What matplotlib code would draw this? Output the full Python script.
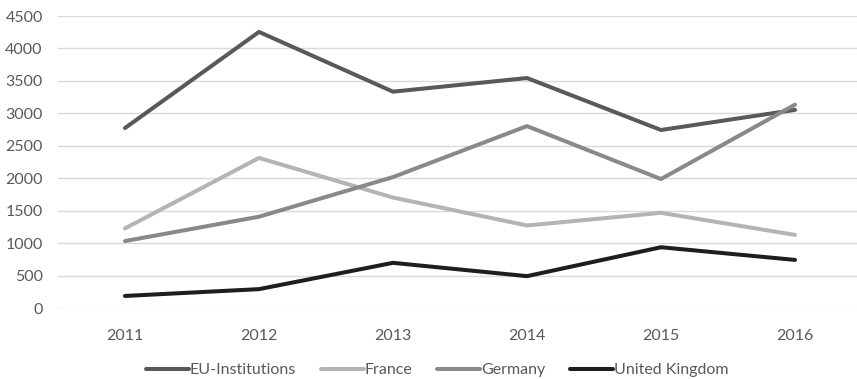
import matplotlib
matplotlib.use("Agg")
import matplotlib.pyplot as plt

years = ["2011", "2012", "2013", "2014", "2015", "2016"]
eu_institutions = [2775, 4255, 3335, 3545, 2745, 3055]
france = [1230, 2315, 1705, 1275, 1470, 1130]
germany = [1035, 1410, 2020, 2805, 1990, 3135]
united_kingdom = [190, 295, 700, 495, 940, 745]

series = [
    ("EU-Institutions", eu_institutions, "#595959"),
    ("France", france, "#b4b4b4"),
    ("Germany", germany, "#898989"),
    ("United Kingdom", united_kingdom, "#1e1e1e"),
]

plt.rcParams["font.family"] = ["Lato", "DejaVu Sans"]
W, H = 857, 379
fig = plt.figure(figsize=(W / 100, H / 100), dpi=100)
ax = fig.add_axes([58 / W, (H - 308.3) / H, (862 - 58) / W, 292.3 / H])

x = range(len(years))
for name, vals, color in series:
    ax.plot(x, vals, color=color, lw=2.9, label=name,
            solid_capstyle="round", solid_joinstyle="round")

ax.set_xlim(-0.5, 5.5)
ax.set_ylim(0, 4500)
ax.set_yticks(range(0, 4501, 500))
ax.set_xticks(list(x))
ax.set_xticklabels(years)
ax.grid(axis="y", color="#d9d9d9", lw=1.0)
ax.set_axisbelow(True)
for s in ax.spines.values():
    s.set_visible(False)
ax.tick_params(length=0, labelsize=11.5, colors="#595959")
ax.tick_params(axis="y", pad=11)
ax.tick_params(axis="x", pad=15)

leg = fig.legend(loc="center", bbox_to_anchor=(437 / W, (H - 370) / H), ncol=4,
                 frameon=False, fontsize=11.5, handlelength=2.7, handletextpad=0.05,
                 columnspacing=1.55, borderpad=0, borderaxespad=0)
for t in leg.get_texts():
    t.set_color("#595959")

fig.savefig("out.png", dpi=100)
